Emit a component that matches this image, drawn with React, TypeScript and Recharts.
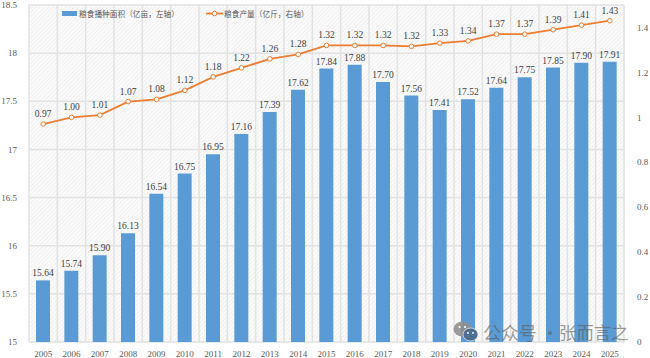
import {
  Bar,
  CartesianGrid,
  ComposedChart,
  LabelList,
  Line,
  XAxis,
  YAxis,
} from "recharts";

const YEARS = [
  "2005", "2006", "2007", "2008", "2009", "2010", "2011",
  "2012", "2013", "2014", "2015", "2016", "2017", "2018",
  "2019", "2020", "2021", "2022", "2023", "2024", "2025",
];
const AREA = [
  15.64, 15.74, 15.9, 16.13, 16.54, 16.75, 16.95,
  17.16, 17.39, 17.62, 17.84, 17.88, 17.7, 17.56,
  17.41, 17.52, 17.64, 17.75, 17.85, 17.9, 17.91,
];
const OUTPUT = [
  0.97, 1.0, 1.01, 1.07, 1.08, 1.12, 1.18,
  1.22, 1.26, 1.28, 1.32, 1.32, 1.32, 1.316,
  1.33, 1.34, 1.37, 1.37, 1.39, 1.41, 1.43,
];
const LEFT_TICKS = [15, 15.5, 16, 16.5, 17, 17.5, 18, 18.5];
const RIGHT_TICKS = [0, 0.2, 0.4, 0.6, 0.8, 1, 1.2, 1.4];

const AREA_NAME = "粮食播种面积（亿亩，左轴）";
const OUTPUT_NAME = "粮食产量（亿斤，右轴）";

const data = YEARS.map((year, i) => ({ year, area: AREA[i], output: OUTPUT[i] }));

const SERIF = '"Liberation Serif", "Noto Sans CJK SC", serif';
const BLUE = "#5b9bd5";
const ORANGE = "#ed7d31";
const tickStyle = { fontSize: 9, fontFamily: SERIF, fill: "#595959" };
const labelStyle = { fontSize: 9.5, fontFamily: SERIF, fill: "#404040" };

const fmt = (v: any) => Number(v).toFixed(2);

function ChartLegend() {
  const text = { fontSize: 7.7, color: "#595959", fontFamily: SERIF, whiteSpace: "nowrap" as const };
  return (
    <>
      <div style={{ position: "absolute", left: 62, top: 11, width: 15, height: 5, background: BLUE }} />
      <div style={{ ...text, position: "absolute", left: 79, top: 8 }}>{AREA_NAME}</div>
      <svg style={{ position: "absolute", left: 206, top: 8 }} width={17} height={11}>
        <line x1={0} y1={5.5} x2={17} y2={5.5} stroke={ORANGE} strokeWidth={1.8} />
        <circle cx={8.5} cy={5.5} r={2.3} fill="#fff" stroke={ORANGE} strokeWidth={1} />
      </svg>
      <div style={{ ...text, position: "absolute", left: 224, top: 8 }}>{OUTPUT_NAME}</div>
    </>
  );
}

function Watermark() {
  const text = {
    position: "absolute" as const,
    top: 321,
    fontSize: 18,
    lineHeight: "22px",
    color: "rgba(90,90,90,0.6)",
    fontFamily: '"Noto Sans CJK SC", sans-serif',
    whiteSpace: "nowrap" as const,
  };
  return (
    <>
      <svg style={{ position: "absolute", left: 453, top: 320 }} width={27} height={24}>
        <ellipse cx={9.5} cy={9} rx={9} ry={7.5} fill="#8f8f8f" fillOpacity={0.9} />
        <ellipse cx={17.5} cy={14.5} rx={7.5} ry={6.5} fill="#4f6f8f" stroke="#fff" strokeWidth={0.6} />
        <circle cx={6.5} cy={7} r={1.1} fill="#fff" />
        <circle cx={12} cy={7} r={1.1} fill="#fff" />
        <circle cx={15} cy={13} r={0.9} fill="#fff" />
        <circle cx={20} cy={13} r={0.9} fill="#fff" />
      </svg>
      <div style={{ ...text, left: 483 }}>公众号</div>
      <div style={{ ...text, left: 541 }}>·</div>
      <div style={{ ...text, left: 559, fontSize: 17.4 }}>张而言之</div>
    </>
  );
}

export default function App() {
  return (
    <div style={{ position: "absolute", left: 0, top: 0, width: 650, height: 358, background: "#fff", overflow: "hidden" }}>
      <ComposedChart
        width={650}
        height={358}
        data={data}
        margin={{ top: 5, right: 0, bottom: 0, left: 0 }}
      >
        <defs>
          <pattern id="hatch" width="3" height="3" patternUnits="userSpaceOnUse" patternTransform="rotate(45)">
            <rect width="3" height="3" fill="#fbfbfb" />
            <line x1="0" y1="0" x2="0" y2="3" stroke="#e9e9e9" strokeWidth="1.2" />
          </pattern>
        </defs>
        <CartesianGrid
          yAxisId="left"
          fill="url(#hatch)"
          fillOpacity={1}
          stroke="#e2e2e2"
          strokeWidth={1.5}
          verticalCoordinatesGenerator={({ offset }: any) =>
            YEARS.concat("").map((_, i) => offset.left + (i * offset.width) / YEARS.length)
          }
        />
        <XAxis
          dataKey="year"
          height={16}
          interval={0}
          axisLine={false}
          tickLine={false}
          tickMargin={3}
          tick={tickStyle}
        />
        <YAxis
          yAxisId="left"
          width={29}
          domain={[15, 18.5]}
          ticks={LEFT_TICKS}
          axisLine={false}
          tickLine={false}
          tickMargin={6}
          tick={tickStyle}
        />
        <YAxis
          yAxisId="right"
          orientation="right"
          width={26}
          domain={[0, 1.5]}
          ticks={RIGHT_TICKS}
          axisLine={false}
          tickLine={false}
          tickMargin={7}
          tick={tickStyle}
        />
        <Bar yAxisId="left" dataKey="area" fill={BLUE} barSize={14} isAnimationActive={false}>
          <LabelList dataKey="area" position="top" offset={4} formatter={fmt} style={labelStyle} />
        </Bar>
        <Line
          yAxisId="right"
          dataKey="output"
          stroke={ORANGE}
          strokeWidth={1.8}
          dot={{ r: 2.3, fill: "#fff", stroke: ORANGE, strokeWidth: 1 }}
          isAnimationActive={false}
        >
          <LabelList dataKey="output" position="top" offset={7} formatter={fmt} style={labelStyle} />
        </Line>
      </ComposedChart>
      <ChartLegend />
      <Watermark />
    </div>
  );
}
